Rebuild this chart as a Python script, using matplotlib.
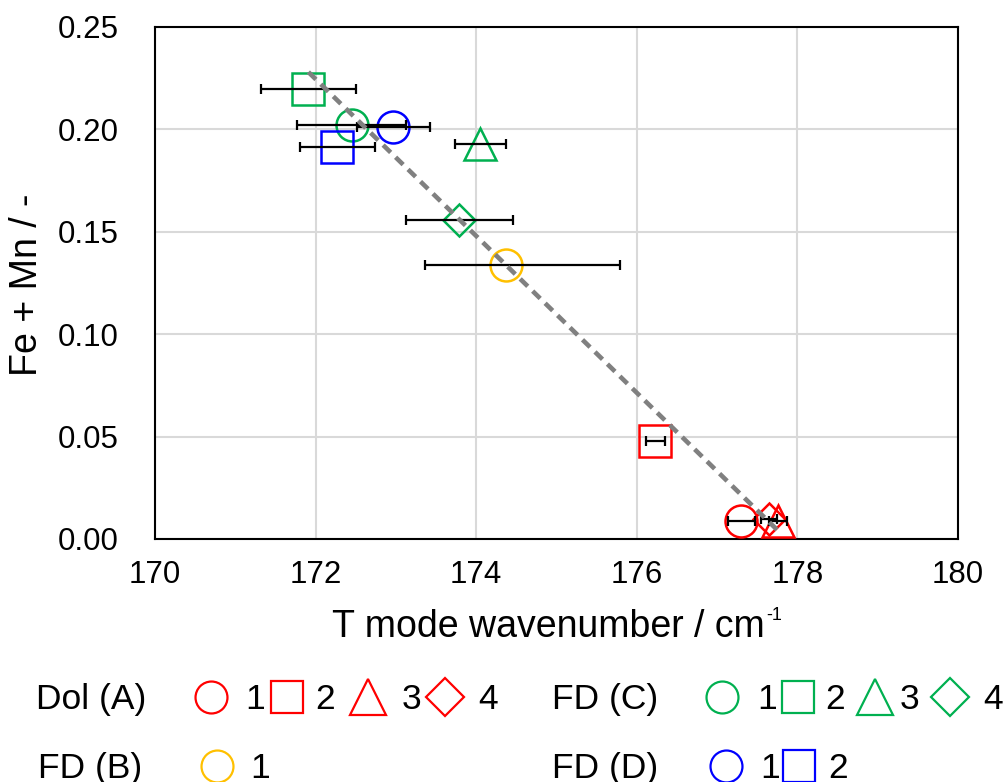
import matplotlib.pyplot as plt
from matplotlib.ticker import FormatStrFormatter

plt.rcParams['font.family'] = ['Liberation Sans', 'DejaVu Sans']

# data: wavenumber, Fe+Mn, x error
dolA_x = [177.30, 176.23, 177.76, 177.65]
dolA_y = [0.009, 0.048, 0.009, 0.010]
dolA_err = [0.17, 0.12, 0.11, 0.10]

fdB_x = [174.37]
fdB_y = [0.134]
fdB_err_lo = [1.01]
fdB_err_hi = [1.42]

fdC_x = [172.45, 171.91, 174.05, 173.79]
fdC_y = [0.202, 0.2196, 0.1927, 0.1558]
fdC_err = [0.68, 0.59, 0.32, 0.67]

fdD_x = [172.97, 172.27]
fdD_y = [0.201, 0.1913]
fdD_err = [0.45, 0.47]

trend_x = [171.91, 177.76]
trend_y = [0.228, 0.004]

markers = ['o', 's', '^', 'D']
plot_ms = [23, 23.5, 23, 16]
red = '#FF0000'
orange = '#FFC000'
green = '#00B050'
blue = '#0000FF'

fig = plt.figure(figsize=(10.08, 7.82), dpi=100)
ax = fig.add_axes([155 / 1008, 1 - 539 / 782, 803 / 1008, 512 / 782])


def draw(xs, ys, errs, color):
    for i in range(len(xs)):
        ax.errorbar(xs[i], ys[i], xerr=errs[i], fmt='none', ecolor='black',
                    elinewidth=1.6, capsize=3.6, capthick=1.6, zorder=4)
        ax.plot(xs[i], ys[i], marker=markers[i], markersize=plot_ms[i], mfc='none',
                mec=color, mew=1.8, linestyle='none', zorder=3)


draw(dolA_x, dolA_y, dolA_err, red)
fdB_err = [[[lo], [hi]] for lo, hi in zip(fdB_err_lo, fdB_err_hi)]
draw(fdB_x, fdB_y, fdB_err, orange)
draw(fdC_x, fdC_y, fdC_err, green)
draw(fdD_x, fdD_y, fdD_err, blue)

ax.plot(trend_x, trend_y, color='#808080', linestyle=(0, (2.3, 1.5)),
        linewidth=3.3, zorder=5)

ax.set_xlim(170, 180)
ax.set_ylim(0, 0.25)
ax.set_xticks([170, 172, 174, 176, 178, 180])
ax.set_yticks([0, 0.05, 0.10, 0.15, 0.20, 0.25])
ax.yaxis.set_major_formatter(FormatStrFormatter('%.2f'))
ax.grid(True, color='#D9D9D9', linewidth=1.5)
ax.set_axisbelow(True)
for s in ax.spines.values():
    s.set_linewidth(1.5)
ax.tick_params(length=0, labelsize=22.5)
ax.tick_params(axis='x', pad=15)
ax.tick_params(axis='y', pad=26)

# x label with a plain hyphen superscript, like the original
fig.text(765 / 1008, 1 - 637 / 782, 'T mode wavenumber / cm', fontsize=27,
         ha='right', va='baseline')
fig.text(766 / 1008, 1 - 620 / 782, '-1', fontsize=13,
         ha='left', va='baseline')
fig.text(27 / 1008, 1 - 285 / 782, 'Fe + Mn / -', fontsize=27, rotation=90,
         ha='center', va='center')

# legend drawn as text and markers below the plot (pixel coordinates)
lg = fig.add_axes([0, 0, 1, 1])
lg.set_xlim(0, 1008)
lg.set_ylim(782, 0)
lg.axis('off')
lg.patch.set_visible(False)
leg_ms = [23, 23, 26, 19]


def legend_row(label, lx, y, color, mx, tx):
    lg.text(lx, y + 12, label, fontsize=25.5, va='baseline', ha='left')
    for i in range(len(mx)):
        lg.plot(mx[i], y, marker=markers[i], markersize=leg_ms[i], mfc='none',
                mec=color, mew=1.6, linestyle='none')
        lg.text(tx[i], y + 12, str(i + 1), fontsize=25.5, va='baseline', ha='center')


legend_row('Dol (A)', 36, 697, red, [211, 287, 368, 445], [255, 325, 412, 488])
legend_row('FD (C)', 552, 697, green, [722, 798, 875, 950], [767, 835, 910, 993])
legend_row('FD (B)', 38, 766, orange, [217], [260])
legend_row('FD (D)', 552, 766, blue, [726, 799], [770, 838])

fig.savefig('out.png', dpi=100)
